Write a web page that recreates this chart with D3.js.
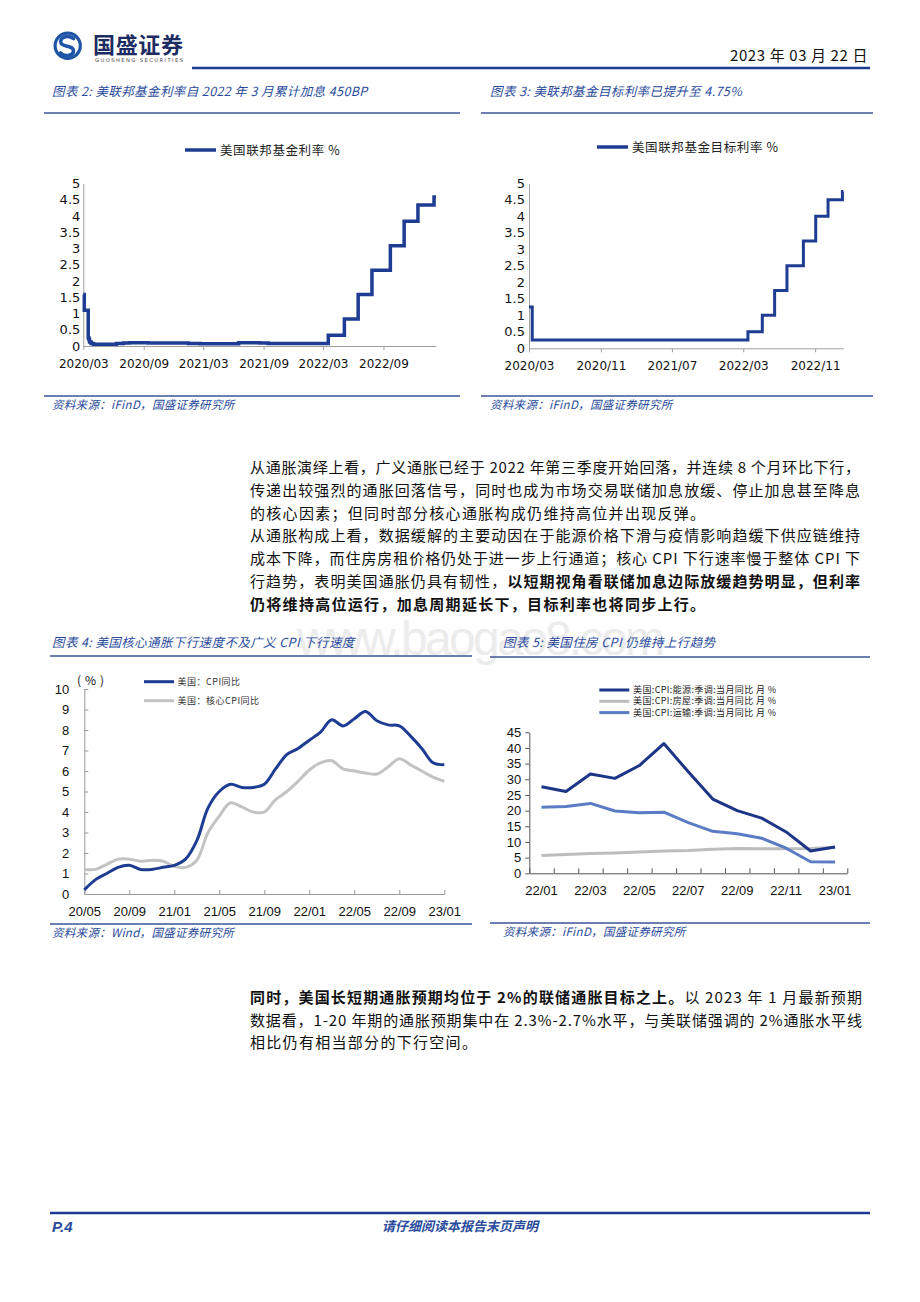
<!DOCTYPE html>
<html>
<head>
<meta charset="utf-8">
<script src="https://cdn.jsdelivr.net/npm/d3@7"></script>
<style>
  body { margin: 0; background: #fff; }
  svg { display: block; }
  .cn { font-family: "Noto Sans CJK SC", sans-serif; }
</style>
</head>
<body>
<svg id="canvas"></svg>
<script>
// chart 2: effective fed funds rate (step points)
const effDates = ["2020-03-01","2020-03-04","2020-03-16","2020-03-18","2020-03-20","2020-03-25","2020-04-01","2020-06-10","2020-07-01","2020-07-20","2020-09-15","2021-01-15","2021-02-20","2021-06-17","2021-08-20","2021-09-15","2022-03-17","2022-05-05","2022-06-16","2022-07-28","2022-09-22","2022-11-03","2022-12-15","2023-02-02","2023-02-08"]
const effValues = [1.58,1.10,0.25,0.20,0.12,0.08,0.05,0.08,0.09,0.10,0.09,0.08,0.07,0.10,0.09,0.08,0.33,0.83,1.58,2.33,3.08,3.83,4.33,4.58,4.58]
const effTicks = ["2020-03-01","2020-09-01","2021-03-01","2021-09-01","2022-03-01","2022-09-01"]

// chart 3: fed funds target rate (upper bound)
const tgtDates = ["2020-03-01","2020-03-12","2022-03-17","2022-05-05","2022-06-16","2022-07-28","2022-09-22","2022-11-03","2022-12-15","2023-02-02","2023-02-05"]
const tgtValues = [1.25,0.25,0.5,1.0,1.75,2.5,3.25,4.0,4.5,4.75,4.75]
const tgtTicks = ["2020-03-01","2020-11-01","2021-07-01","2022-03-01","2022-11-01"]

const rateTicks = [0,0.5,1,1.5,2,2.5,3,3.5,4,4.5,5]

// chart 4: CPI yoy vs core CPI yoy
const cpiMonths = ["20/05","20/06","20/07","20/08","20/09","20/10","20/11","20/12",
  "21/01","21/02","21/03","21/04","21/05","21/06","21/07","21/08","21/09","21/10","21/11","21/12",
  "22/01","22/02","22/03","22/04","22/05","22/06","22/07","22/08","22/09","22/10","22/11","22/12","23/01"]
const cpiYoY = [0.2,0.7,1.0,1.3,1.4,1.2,1.2,1.3,1.4,1.7,2.6,4.2,5.0,5.35,5.2,5.2,5.35,6.1,6.8,7.1,7.5,7.9,8.5,8.2,8.55,8.9,8.45,8.25,8.2,7.7,7.1,6.4,6.3]
const coreYoY = [1.2,1.2,1.45,1.7,1.7,1.6,1.65,1.6,1.35,1.3,1.65,3.0,3.8,4.45,4.25,4.0,4.0,4.6,5.0,5.5,6.05,6.4,6.5,6.1,6.0,5.9,5.85,6.2,6.6,6.3,6.0,5.7,5.5]
const cpiTickLabels = ["20/05","20/09","21/01","21/05","21/09","22/01","22/05","22/09","23/01"]

// chart 5: energy / shelter / transport CPI
const subMonths = ["22/01","22/02","22/03","22/04","22/05","22/06","22/07","22/08","22/09","22/10","22/11","22/12","23/01"]
const energyYoY = [27.6,26.1,31.7,30.3,34.4,41.4,32.4,23.7,20.0,17.6,13.2,7.1,8.4]
const shelterYoY = [5.7,6.0,6.3,6.5,6.8,7.1,7.3,7.7,7.9,7.8,7.8,7.9,8.3]
const transportYoY = [21.1,21.3,22.3,19.9,19.3,19.5,16.2,13.4,12.6,11.2,8.0,3.7,3.6]
const subTicks = [0,5,10,15,20,25,30,35,40,45]

// text blocks
const para1 = [
  [["从通胀演绎上看，广义通胀已经于 2022 年第三季度开始回落，并连续 8 个月环比下行，", 0]],
  [["传递出较强烈的通胀回落信号，同时也成为市场交易联储加息放缓、停止加息甚至降息", 0]],
  [["的核心因素；但同时部分核心通胀构成仍维持高位并出现反弹。", 0]],
  [["从通胀构成上看，数据缓解的主要动因在于能源价格下滑与疫情影响趋缓下供应链维持", 0]],
  [["成本下降，而住房房租价格仍处于进一步上行通道；核心 CPI 下行速率慢于整体 CPI 下", 0]],
  [["行趋势，表明美国通胀仍具有韧性，", 0], ["以短期视角看联储加息边际放缓趋势明显，但利率", 1]],
  [["仍将维持高位运行，加息周期延长下，目标利率也将同步上行。", 1]]
]
const para1Justify = [1,1,0,1,1,1,0]
const para2 = [
  [["同时，美国长短期通胀预期均位于 2%的联储通胀目标之上。", 1], ["以 2023 年 1 月最新预期", 0]],
  [["数据看，1-20 年期的通胀预期集中在 2.3%-2.7%水平，与美联储强调的 2%通胀水平线", 0]],
  [["相比仍有相当部分的下行空间。", 0]]
]
const para2Justify = [1,1,0]

const width = 920
const height = 1302
const blue = "#1f3c93"
const capBlue = "#2a4b9c"
const parseDate = d3.timeParse("%Y-%m-%d")

const canvas = d3.select("#canvas").attr("width", width).attr("height", height)

const drawWatermark = () => {
  canvas.append("text")
    .attr("x", 297).attr("y", 655)
    .attr("textLength", 368)
    .attr("font-family", "Liberation Sans, Arial, sans-serif")
    .attr("font-size", 48)
    .attr("fill", "#ececec")
    .text("www.baogao8.com")
}

const drawHeader = () => {
  // logo
  canvas.append("circle").attr("cx", 67.7).attr("cy", 45.7).attr("r", 12.6)
    .attr("fill", "none").attr("stroke", "#1f55a6").attr("stroke-width", 3.2)
  canvas.append("path")
    .attr("d", "M73.5,38.5 C68,34.5 59,37 61,43 C62.5,47.5 73.5,45 73.5,51 C73,56.5 64,57 60.5,53")
    .attr("fill", "none").attr("stroke", "#1f55a6").attr("stroke-width", 3.6).attr("stroke-linecap", "round")
  canvas.append("text").attr("class", "cn")
    .attr("x", 93).attr("y", 52.5)
    .attr("font-size", 22).attr("font-weight", 700).attr("fill", "#1d2b63")
    .attr("textLength", 90)
    .text("国盛证券")
  canvas.append("text")
    .attr("x", 95).attr("y", 61.5)
    .attr("font-family", "DejaVu Sans, sans-serif").attr("font-size", 5.2).attr("fill", "#444")
    .attr("textLength", 88)
    .text("GUOSHENG SECURITIES")
  canvas.append("text").attr("class", "cn")
    .attr("x", 868).attr("y", 61).attr("text-anchor", "end")
    .attr("font-size", 15).attr("fill", "#111")
    .style("letter-spacing", "0.6px")
    .text("2023 年 03 月 22 日")
  canvas.append("line").attr("x1", 192).attr("x2", 870).attr("y1", 68).attr("y2", 68)
    .attr("stroke", blue).attr("stroke-width", 2.6)
}

const drawFrame = (x1, x2, titleX, titleY, lineY, srcLineY, title, source) => {
  canvas.append("text").attr("class", "cn")
    .attr("x", titleX).attr("y", titleY)
    .attr("font-size", 12.5).attr("font-style", "italic").attr("fill", capBlue)
    .style("letter-spacing", "0.4px")
    .text(title)
  canvas.append("line").attr("x1", x1).attr("x2", x2).attr("y1", lineY).attr("y2", lineY)
    .attr("stroke", "#3b5598").attr("stroke-width", 1.6)
  canvas.append("line").attr("x1", x1).attr("x2", x2).attr("y1", srcLineY).attr("y2", srcLineY)
    .attr("stroke", "#3b5598").attr("stroke-width", 1.6)
  canvas.append("text").attr("class", "cn")
    .attr("x", titleX).attr("y", srcLineY + 13)
    .attr("font-size", 11.5).attr("font-style", "italic").attr("fill", capBlue)
    .style("letter-spacing", "0.3px")
    .text(source)
}

const styleAxis = (g, color, font, size) => {
  g.select(".domain").attr("stroke", color)
  g.selectAll(".tick line").attr("stroke", color)
  g.selectAll(".tick text").attr("fill", "#111").attr("font-family", font).attr("font-size", size)
}

const drawRateChart = (dates, values, ticks, opts) => {
  const data = dates.map((d, i) => ({ date: parseDate(d), value: values[i] }))
  const xScale = d3.scaleTime()
    .domain([parseDate(opts.domain[0]), parseDate(opts.domain[1])])
    .range([opts.left, opts.right])
  const yScale = d3.scaleLinear().domain([0, 5]).range([opts.bottom, opts.top])

  const xAxis = d3.axisBottom(xScale)
    .tickValues(ticks.map(parseDate))
    .tickFormat(d3.timeFormat("%Y/%m"))
    .tickSize(4).tickSizeOuter(0).tickPadding(9)
  const yAxis = d3.axisLeft(yScale)
    .tickValues(rateTicks)
    .tickFormat(d => d)
    .tickSize(0).tickPadding(opts.ypad)

  const gx = canvas.append("g").attr("transform", "translate(0," + opts.bottom + ")").call(xAxis)
  styleAxis(gx, "#a0a0a0", "DejaVu Sans, Verdana, sans-serif", 12)
  const gy = canvas.append("g").attr("transform", "translate(" + opts.left + ",0)").call(yAxis)
  styleAxis(gy, "#a0a0a0", "DejaVu Sans, Verdana, sans-serif", 13)

  const line = d3.line()
    .x(d => xScale(d.date)).y(d => yScale(d.value))
    .curve(d3.curveStepAfter)
  canvas.append("path").datum(data)
    .attr("d", line).attr("fill", "none")
    .attr("stroke", blue).attr("stroke-width", opts.sw)

  // legend
  canvas.append("line")
    .attr("x1", opts.legX).attr("x2", opts.legX + 31).attr("y1", opts.legY).attr("y2", opts.legY)
    .attr("stroke", blue).attr("stroke-width", 3.5)
  canvas.append("text").attr("class", "cn")
    .attr("x", opts.legX + 35).attr("y", opts.legY + 4.5)
    .attr("font-size", 12.5).attr("fill", "#222")
    .style("letter-spacing", "0.6px")
    .text(opts.label)
}

const drawCpiChart = () => {
  const left = 84.3, right = 444.3, top = 689, bottom = 894
  const xScale = d3.scaleLinear().domain([0, cpiMonths.length - 1]).range([left, right])
  const yScale = d3.scaleLinear().domain([0, 10]).range([bottom, top])

  const xAxis = d3.axisBottom(xScale)
    .tickValues(cpiTickLabels.map(m => cpiMonths.indexOf(m)))
    .tickFormat(i => cpiMonths[i])
    .tickSize(-4).tickSizeOuter(0).tickPadding(13)
  const yAxis = d3.axisLeft(yScale)
    .tickValues(d3.range(0, 11))
    .tickSize(-4).tickSizeOuter(0).tickPadding(15)

  const gx = canvas.append("g").attr("transform", "translate(0," + bottom + ")").call(xAxis)
  styleAxis(gx, "#999", "Liberation Sans, Arial, sans-serif", 13)
  const gy = canvas.append("g").attr("transform", "translate(" + left + ",0)").call(yAxis)
  styleAxis(gy, "#999", "Liberation Sans, Arial, sans-serif", 13)

  canvas.append("text").attr("class", "cn")
    .attr("x", 77).attr("y", 685)
    .attr("font-size", 12).attr("fill", "#111")
    .style("letter-spacing", "4px")
    .text("(%)")

  const series = [
    { values: coreYoY, color: "#c3c3c3", label: "美国：核心CPI同比" },
    { values: cpiYoY, color: blue, label: "美国：CPI同比" }
  ]
  const line = d3.line()
    .x((d, i) => xScale(i)).y(d => yScale(d))
    .curve(d3.curveCatmullRom.alpha(0.5))
  series.forEach(s => {
    canvas.append("path").datum(s.values)
      .attr("d", line).attr("fill", "none")
      .attr("stroke", s.color).attr("stroke-width", 3)
  })

  const legend = [series[1], series[0]]
  legend.forEach((s, i) => {
    const ly = 681.7 + i * 19
    canvas.append("line").attr("x1", 144).attr("x2", 174).attr("y1", ly).attr("y2", ly)
      .attr("stroke", s.color).attr("stroke-width", 3)
    canvas.append("text").attr("class", "cn")
      .attr("x", 177.5).attr("y", ly + 3)
      .attr("font-size", 9).attr("fill", "#333")
      .style("letter-spacing", "0.5px")
      .text(s.label)
  })
}

const drawSubChart = () => {
  const left = 529.3, right = 847.3, top = 732.3, bottom = 873.3
  const xBand = d3.scaleBand().domain(subMonths).range([left, right])
  const xEdge = d3.scaleLinear().domain([0, subMonths.length]).range([left, right])
  const yScale = d3.scaleLinear().domain([0, 45]).range([bottom, top])

  const edgeAxis = d3.axisBottom(xEdge)
    .tickValues(d3.range(0, subMonths.length + 1))
    .tickFormat("").tickSize(-5).tickSizeOuter(0)
  const labelAxis = d3.axisBottom(xBand)
    .tickFormat((d, i) => i % 2 === 0 ? d : "")
    .tickSize(0).tickPadding(12)
  const yAxis = d3.axisLeft(yScale)
    .tickValues(subTicks)
    .tickSize(4).tickSizeOuter(0).tickPadding(4)

  const ge = canvas.append("g").attr("transform", "translate(0," + bottom + ")").call(edgeAxis)
  styleAxis(ge, "#555", "Liberation Sans, Arial, sans-serif", 13)
  const gl = canvas.append("g").attr("transform", "translate(0," + bottom + ")").call(labelAxis)
  gl.select(".domain").remove()
  styleAxis(gl, "#555", "Liberation Sans, Arial, sans-serif", 13)
  const gy = canvas.append("g").attr("transform", "translate(" + left + ",0)").call(yAxis)
  styleAxis(gy, "#555", "Liberation Sans, Arial, sans-serif", 13)

  const series = [
    { values: shelterYoY, color: "#bdbdbd", label: "美国:CPI:房屋:季调:当月同比 月 %" },
    { values: transportYoY, color: "#5b7cc4", label: "美国:CPI:运输:季调:当月同比 月 %" },
    { values: energyYoY, color: "#1c3586", label: "美国:CPI:能源:季调:当月同比 月 %" }
  ]
  const line = d3.line()
    .x((d, i) => xBand(subMonths[i]) + xBand.bandwidth() / 2)
    .y(d => yScale(d))
  series.forEach(s => {
    canvas.append("path").datum(s.values)
      .attr("d", line).attr("fill", "none")
      .attr("stroke", s.color).attr("stroke-width", 3)
      .attr("stroke-linejoin", "round")
  })

  const legend = [series[2], series[0], series[1]]
  legend.forEach((s, i) => {
    const ly = 690 + i * 11.3
    canvas.append("line").attr("x1", 599.3).attr("x2", 629.3).attr("y1", ly).attr("y2", ly)
      .attr("stroke", s.color).attr("stroke-width", 3)
    canvas.append("text").attr("class", "cn")
      .attr("x", 633).attr("y", ly + 3)
      .attr("font-size", 9).attr("fill", "#222")
      .attr("textLength", 143)
      .text(s.label)
  })
}

const drawParagraph = (lines, justify, x, y0, step, fullWidth) => {
  lines.forEach((segs, i) => {
    const t = canvas.append("text").attr("class", "cn")
      .attr("x", x).attr("y", y0 + i * step)
      .attr("font-size", 15).attr("fill", "#111")
      .style("letter-spacing", "0px")
    segs.forEach(s => {
      t.append("tspan").attr("font-weight", s[1] ? 700 : 400).text(s[0])
    })
    const n = segs.reduce((a, s) => a + s[0].length, 0)
    const w = t.node().getComputedTextLength()
    const ls = justify[i] ? (fullWidth - w) / (n - 1) : 1.3
    t.style("letter-spacing", ls + "px")
  })
}

const drawFooter = () => {
  canvas.append("line").attr("x1", 50).attr("x2", 870).attr("y1", 1213).attr("y2", 1213)
    .attr("stroke", blue).attr("stroke-width", 2.6)
  canvas.append("text")
    .attr("x", 52).attr("y", 1232)
    .attr("font-family", "Liberation Sans, Arial, sans-serif")
    .attr("font-size", 15).attr("font-weight", 700).attr("font-style", "italic")
    .attr("fill", capBlue)
    .text("P.4")
  canvas.append("text").attr("class", "cn")
    .attr("x", 460).attr("y", 1231).attr("text-anchor", "middle")
    .attr("font-size", 13).attr("font-weight", 700).attr("font-style", "italic")
    .attr("fill", capBlue)
    .text("请仔细阅读本报告末页声明")
}

drawWatermark()
drawHeader()
drawFrame(44, 460, 52, 96, 113, 396, "图表 2:  美联邦基金利率自 2022 年 3 月累计加息 450BP", "资料来源：iFinD，国盛证券研究所")
drawFrame(481, 873, 490, 96, 113, 396, "图表 3:  美联邦基金目标利率已提升至 4.75%", "资料来源：iFinD，国盛证券研究所")
drawRateChart(effDates, effValues, effTicks, {
  domain: ["2020-03-01", "2023-02-08"], left: 83.3, right: 436, top: 183.3, bottom: 346,
  ypad: 3, sw: 3.5, legX: 185, legY: 150, label: "美国联邦基金利率 %"
})
drawRateChart(tgtDates, tgtValues, tgtTicks, {
  domain: ["2020-03-01", "2023-02-05"], left: 529, right: 843.3, top: 183.3, bottom: 348.3,
  ypad: 4, sw: 3, legX: 597, legY: 147, label: "美国联邦基金目标利率 %"
})
drawParagraph(para1, para1Justify, 250, 473, 22.8, 610)
drawFrame(50, 472, 52, 647, 656, 924, "图表 4:  美国核心通胀下行速度不及广义 CPI 下行速度", "资料来源：Wind，国盛证券研究所")
drawFrame(490, 870, 503, 647, 657, 923, "图表 5:  美国住房 CPI 仍维持上行趋势", "资料来源：iFinD，国盛证券研究所")
drawCpiChart()
drawSubChart()
drawParagraph(para2, para2Justify, 250, 1003, 22.5, 612)
drawFooter()
</script>
</body>
</html>
